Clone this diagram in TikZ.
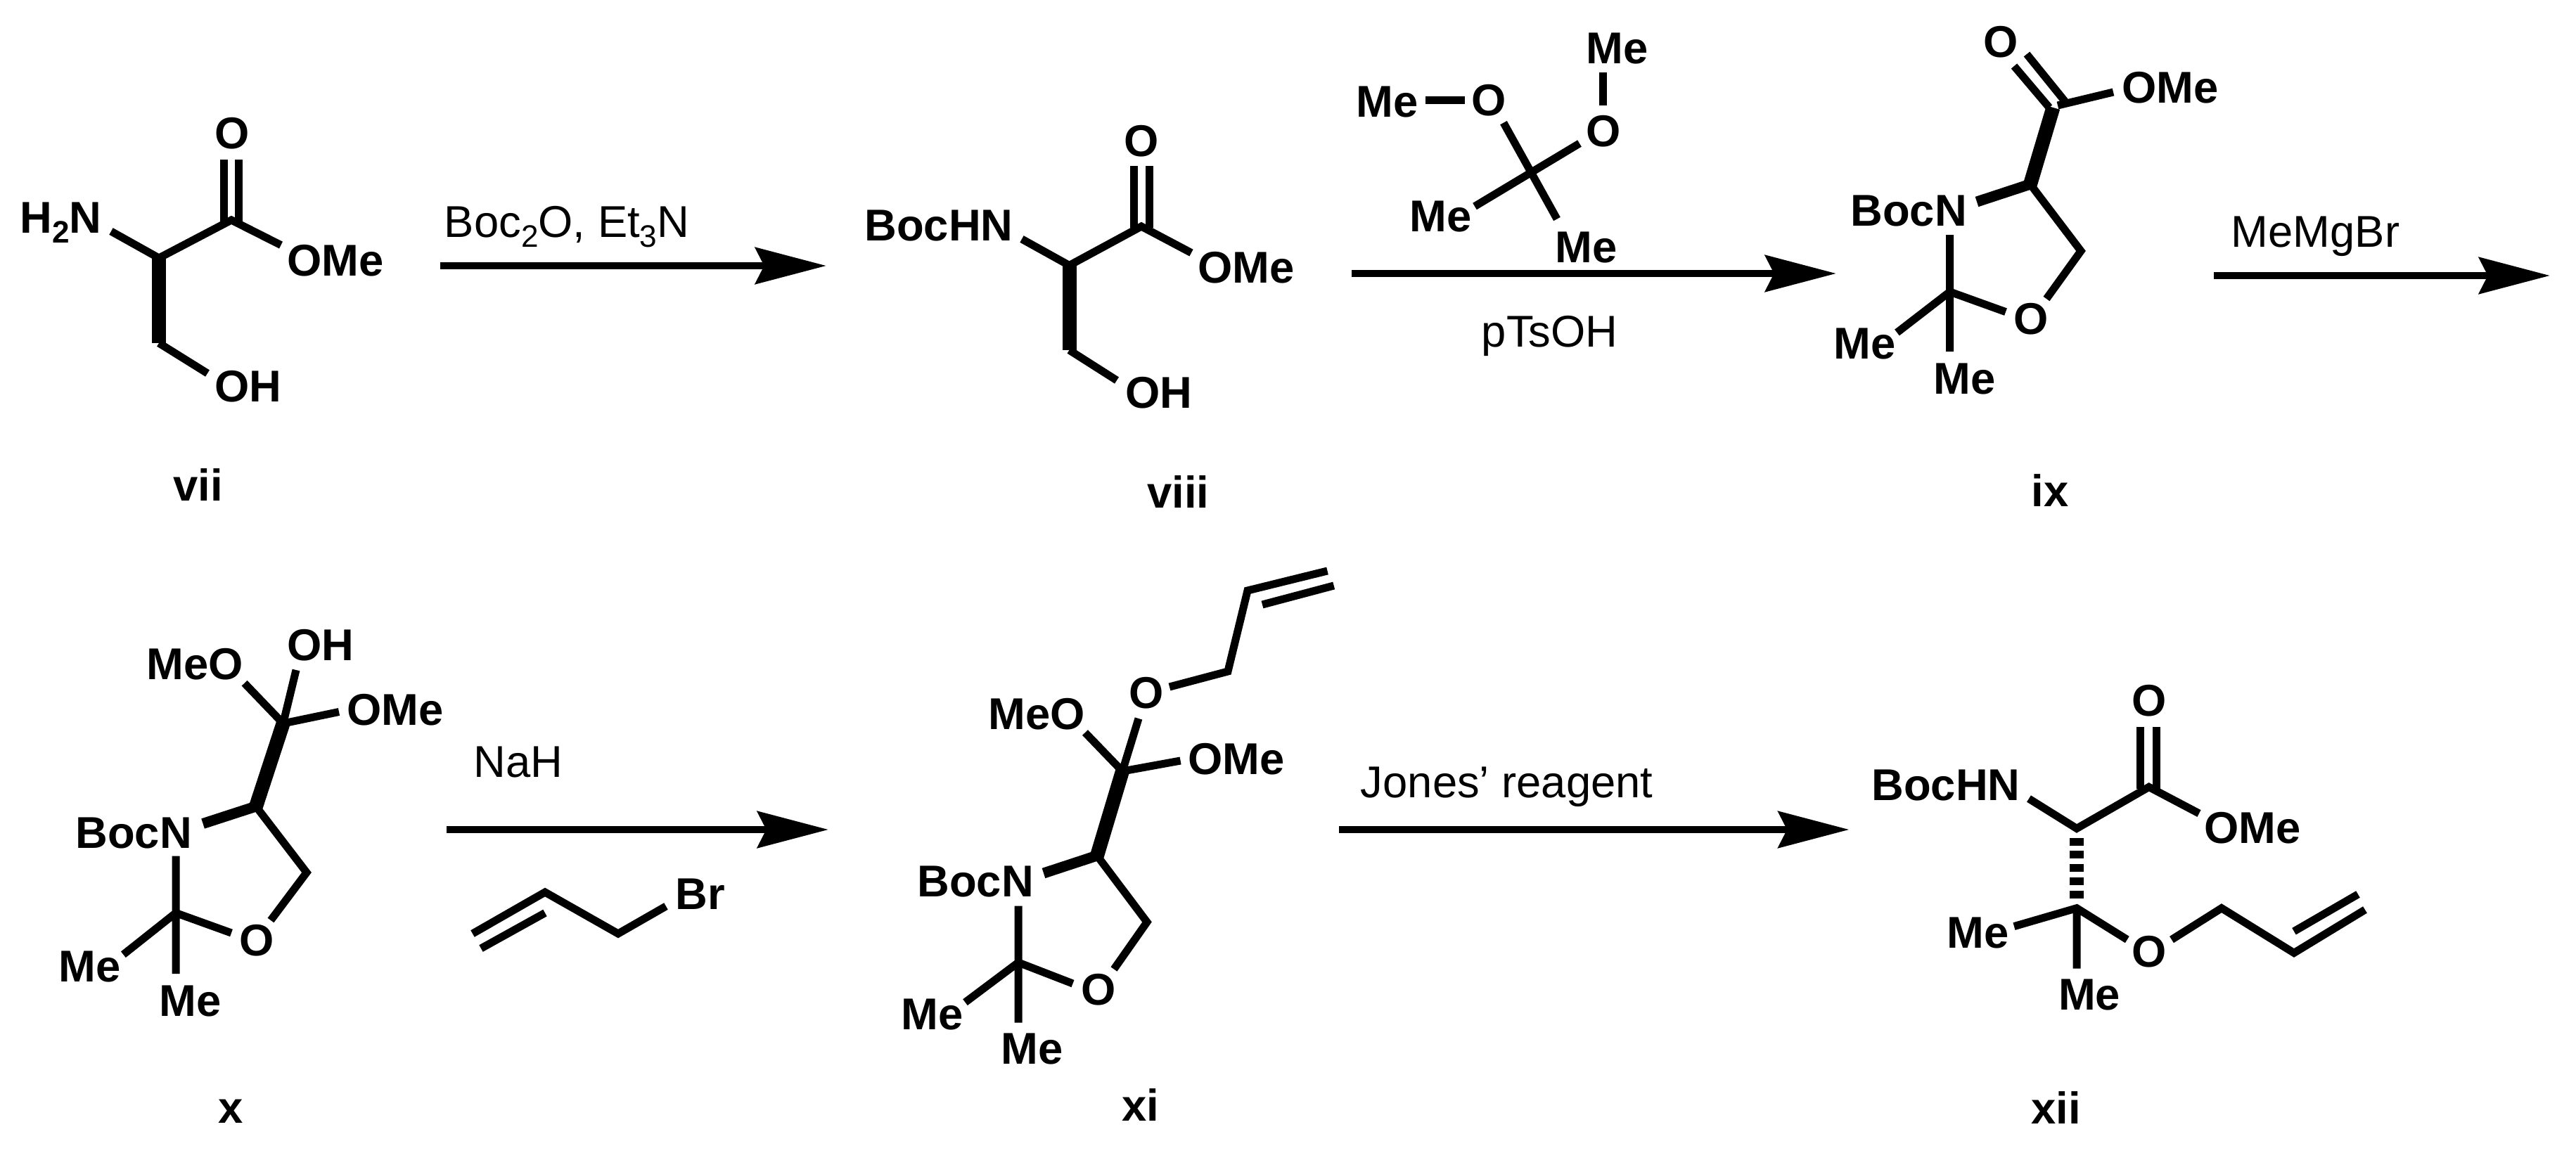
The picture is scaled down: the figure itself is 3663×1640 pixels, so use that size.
\documentclass[tikz,border=0pt]{standalone}
\usepackage{fontspec}
\setmainfont{Liberation Sans}
\usetikzlibrary{arrows.meta}
\newcommand{\subdigit}[1]{\raisebox{-3.4pt}{\fontsize{10.6}{12}\selectfont #1}}
\tikzset{
  x=0.24pt,y=-0.24pt,
  bond/.style={line width=2.64pt,line cap=butt,line join=miter},
  semibond/.style={line width=3.6pt,line cap=butt,line join=miter},
  boldbond/.style={line width=4.8pt,line cap=butt,line join=miter},
  hashbond/.style={line width=4.8pt,dash pattern=on 2.64pt off 1.86pt},
  rxn/.style={line width=2.6pt,-{Stealth[length=24.2pt,width=12.4pt,inset=3pt]}},
  atom/.style={inner sep=0pt,outer sep=0pt,anchor=base west,xshift=-0.6pt,font=\fontsize{15.2}{18}\selectfont\bfseries},
  oatom/.style={inner sep=0pt,outer sep=0pt,anchor=center,font=\fontsize{15.2}{18}\selectfont\bfseries},
  reagent/.style={inner sep=0pt,outer sep=0pt,anchor=base west,xshift=-0.5pt,font=\fontsize{15.2}{18}\selectfont},
}
\begin{document}
\begin{tikzpicture}
\useasboundingbox (0,0) rectangle (3663,1640);
\fill[white] (0,0) rectangle (3663,1640);

% ---------- vii ----------
\coordinate (a1) at (226,367); \coordinate (a2) at (329,313); \coordinate (a3) at (399.5,348.6);
\coordinate (a4) at (158,329); \coordinate (a5) at (226,488); \coordinate (a6) at (295,531);
\coordinate (a7) at (318,227); \coordinate (a8) at (318,316); \coordinate (a9) at (339,227); \coordinate (a10) at (339,316);
\node[oatom] (aO) at (330,190) {O};
\node[atom] (aOMe) at (411,392) {OMe};
\node[atom] (aN) at (31,331.5) {H\subdigit{2}N};
\node[atom] (aOH) at (308,571) {OH};
\node[atom] (aL) at (249,712) {vii};
\draw[bond] (a4) -- (a1) -- (a2) -- (a3);
\draw[bond] (a7) -- (a8) (a9) -- (a10);
\draw[boldbond] (a1) -- (a5);
\draw[bond] (a5) -- (a6);
% arrow 1
\coordinate (r1s) at (626,378); \coordinate (r1e) at (1175,378);
\draw[rxn] (r1s) -- (r1e);
\node[reagent] (r1t) at (634,337.5) {Boc\subdigit{2}O, Et\subdigit{3}N};

% ---------- viii ----------
\coordinate (b1) at (1520.5,377.5); \coordinate (b2) at (1623,322); \coordinate (b3) at (1694,359.6);
\coordinate (b4) at (1453,340); \coordinate (b5) at (1520.5,498); \coordinate (b6) at (1588,541);
\coordinate (b7) at (1612,236); \coordinate (b8) at (1612,324); \coordinate (b9) at (1634.5,236); \coordinate (b10) at (1634.5,324);
\node[oatom] (bO) at (1623,200.6) {O};
\node[atom] (bOMe) at (1706,402) {OMe};
\node[atom] (bN) at (1232,342) {BocHN};
\node[atom] (bOH) at (1602.6,580.5) {OH};
\node[atom] (bL) at (1634,722) {viii};
\draw[bond] (b4) -- (b1) -- (b2) -- (b3);
\draw[bond] (b7) -- (b8) (b9) -- (b10);
\draw[boldbond] (b1) -- (b5);
\draw[bond] (b5) -- (b6);
% 2,2-dimethoxypropane
\coordinate (d0) at (2174,244.5); \coordinate (d1) at (2138,174.6); \coordinate (d2) at (2246,204);
\coordinate (d3) at (2097,293.5); \coordinate (d4) at (2214,311.5);
\coordinate (d5) at (2027,142.5); \coordinate (d6) at (2082.5,142.5);
\coordinate (d7) at (2279.4,103); \coordinate (d8) at (2279.4,150);
\node[atom] (dMe1) at (1931,166) {Me};
\node[oatom] (dO1) at (2117,142.5) {O};
\node[atom] (dMe2) at (2258,90.6) {Me};
\node[oatom] (dO2) at (2280,186.4) {O};
\node[atom] (dMe3) at (2007,329) {Me};
\node[atom] (dMe4) at (2214,373) {Me};
\draw[bond] (d1) -- (d4) (d3) -- (d2);
\draw[bond] (d5) -- (d6) (d7) -- (d8);
% arrow 2
\coordinate (r2s) at (1921.5,389); \coordinate (r2e) at (2611,389);
\draw[rxn] (r2s) -- (r2e);
\node[reagent] (r2t) at (2109,493) {pTsOH};

% ---------- ix ----------
\coordinate (c1) at (2887,262); \coordinate (c2) at (2919.5,153);
\coordinate (c3) at (2811,287); \coordinate (c4) at (2959,357); \coordinate (c5) at (2910,425);
\coordinate (c6) at (2772.6,415); \coordinate (c7) at (2772.6,334); \coordinate (c8) at (2772.6,500);
\coordinate (c9) at (2852,443.6); \coordinate (c10) at (2697.5,473);
\coordinate (c11) at (2864,94); \coordinate (c12) at (2914,153);
\coordinate (c13) at (2882,77); \coordinate (c14) at (2937,145);
\coordinate (c15) at (2926,150); \coordinate (c16) at (3005,131);
\node[oatom] (cO1) at (2845,60) {O};
\node[atom] (cOMe) at (3020,146) {OMe};
\node[atom] (cN) at (2634,321) {BocN};
\node[oatom] (cO2) at (2888,454) {O};
\node[atom] (cMe1) at (2610,510.6) {Me};
\node[atom] (cMe2) at (2752,560) {Me};
\node[atom] (cL) at (2891,720.6) {ix};
\draw[boldbond] (c1) -- (c2);
\draw[semibond] (c3) -- (c1);
\draw[bond] (c1) -- (c4) -- (c5);
\draw[bond] (c7) -- (c8) (c10) -- (c6) -- (c9);
\draw[bond] (c11) -- (c12) (c13) -- (c14) (c15) -- (c16);
% arrow 3
\coordinate (r3s) at (3148,392); \coordinate (r3e) at (3626,392);
\draw[rxn] (r3s) -- (r3e);
\node[reagent] (r3t) at (3175,351.6) {MeMgBr};

% ---------- x ----------
\coordinate (e1) at (402.6,1029); \coordinate (e2) at (364,1147);
\coordinate (e3) at (347.6,971.7); \coordinate (e4) at (421,953); \coordinate (e5) at (482,1012.5);
\coordinate (e6) at (288.6,1171.5); \coordinate (e7) at (436,1241); \coordinate (e8) at (385,1309);
\coordinate (e9) at (250,1298.5); \coordinate (e10) at (250,1217.5); \coordinate (e11) at (250,1385);
\coordinate (e12) at (329,1327); \coordinate (e13) at (175.4,1357.7);
\node[atom] (eMeO) at (211,966) {MeO};
\node[atom] (eOH) at (410.5,939) {OH};
\node[atom] (eOMe) at (496,1031) {OMe};
\node[atom] (eN) at (110,1206) {BocN};
\node[oatom] (eO) at (365,1338) {O};
\node[atom] (eMe1) at (86,1396) {Me};
\node[atom] (eMe2) at (229,1445) {Me};
\node[atom] (eL) at (313,1597) {x};
\draw[boldbond] (e2) -- (e1);
\draw[bond] (e3) -- (e1) (e4) -- (e1) (e5) -- (e1);
\draw[semibond] (e6) -- (e2);
\draw[bond] (e2) -- (e7) -- (e8);
\draw[bond] (e10) -- (e11) (e13) -- (e9) -- (e12);
% arrow 4 and allyl bromide
\coordinate (r4s) at (635,1180); \coordinate (r4e) at (1178,1180);
\draw[rxn] (r4s) -- (r4e);
\node[reagent] (r4t) at (676,1105.6) {NaH};
\coordinate (g1) at (672,1328); \coordinate (g2) at (775,1269); \coordinate (g3) at (879,1328);
\coordinate (g4) at (947,1289); \coordinate (g5) at (684,1349); \coordinate (g6) at (775,1298.5);
\node[atom] (gBr) at (963,1293) {Br};
\draw[bond] (g1) -- (g2) -- (g3) -- (g4);
\draw[bond] (g5) -- (g6);

% ---------- xi ----------
\coordinate (f1) at (1887.5,812); \coordinate (f2) at (1774,840); \coordinate (f3) at (1896.7,833); \coordinate (f4) at (1795,860);
\coordinate (f5) at (1746,955); \coordinate (f6) at (1663,977); \coordinate (f7) at (1619,1022);
\coordinate (f8) at (1596,1097); \coordinate (f9) at (1543,1042); \coordinate (f10) at (1678.6,1082);
\coordinate (f11) at (1560,1217); \coordinate (f12) at (1484,1242); \coordinate (f13) at (1631,1311.5); \coordinate (f14) at (1584,1378.5);
\coordinate (f15) at (1448,1369); \coordinate (f16) at (1448,1288.5); \coordinate (f17) at (1448,1454.5);
\coordinate (f18) at (1525.5,1399); \coordinate (f19) at (1372.5,1425.6);
\node[oatom] (fO1) at (1630,986) {O};
\node[atom] (fMeO) at (1408,1037) {MeO};
\node[atom] (fOMe) at (1692,1101.5) {OMe};
\node[atom] (fN) at (1307,1275) {BocN};
\node[oatom] (fO2) at (1562,1408) {O};
\node[atom] (fMe1) at (1284,1464) {Me};
\node[atom] (fMe2) at (1426,1513.5) {Me};
\node[atom] (fL) at (1598,1594) {xi};
\draw[bond] (f1) -- (f2) -- (f5) -- (f6);
\draw[bond] (f3) -- (f4);
\draw[bond] (f7) -- (f8) (f9) -- (f8) (f10) -- (f8);
\draw[boldbond] (f11) -- (f8);
\draw[semibond] (f12) -- (f11);
\draw[bond] (f11) -- (f13) -- (f14);
\draw[bond] (f16) -- (f17) (f19) -- (f15) -- (f18);
% arrow 5
\coordinate (r5s) at (1904,1180); \coordinate (r5e) at (2629.5,1180);
\draw[rxn] (r5s) -- (r5e);
\node[reagent] (r5t) at (1937,1134.8) {Jones’ reagent};

% ---------- xii ----------
\coordinate (h1) at (2953,1178.4); \coordinate (h2) at (3055.7,1119.4); \coordinate (h3) at (3127,1157);
\coordinate (h4) at (2885,1136); \coordinate (h5) at (3043,1033.5); \coordinate (h6) at (3043,1122);
\coordinate (h7) at (3066.5,1033.5); \coordinate (h8) at (3066.5,1122);
\coordinate (h9) at (2953,1191.6); \coordinate (h10) at (2953,1277.5);
\coordinate (h11) at (2953,1291.7); \coordinate (h12) at (2864,1317.6); \coordinate (h13) at (2953,1377.6);
\coordinate (h14) at (3024.8,1336.5); \coordinate (h15) at (3088,1336.5); \coordinate (h16) at (3159,1291.7);
\coordinate (h17) at (3262,1355.4); \coordinate (h18) at (3363,1294); \coordinate (h19) at (3262,1324.7); \coordinate (h20) at (3353,1272);
\node[oatom] (hO1) at (3055.7,997) {O};
\node[atom] (hOMe) at (3137,1199.7) {OMe};
\node[atom] (hN) at (2664,1138) {BocHN};
\node[atom] (hMe1) at (2771,1348) {Me};
\node[atom] (hMe2) at (2929.6,1436.6) {Me};
\node[oatom] (hO2) at (3055.7,1354) {O};
\node[atom] (hL) at (2891,1598.5) {xii};
\draw[bond] (h4) -- (h1) -- (h2) -- (h3);
\draw[bond] (h5) -- (h6) (h7) -- (h8);
\draw[hashbond] (h9) -- (h10);
\draw[bond] (h12) -- (h11) -- (h14) (h11) -- (h13);
\draw[bond] (h15) -- (h16) -- (h17) -- (h18);
\draw[bond] (h19) -- (h20);
\end{tikzpicture}
\end{document}
